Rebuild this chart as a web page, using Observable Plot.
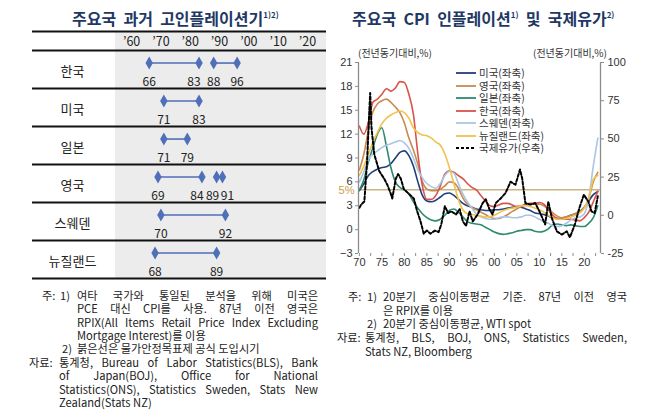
<!DOCTYPE html>
<html><head><meta charset="utf-8">
<script src="https://cdn.jsdelivr.net/npm/d3@7"></script>
<script src="https://cdn.jsdelivr.net/npm/@observablehq/plot@0.6"></script>
<style>
body{margin:0;background:#fff;font-family:"Noto Sans CJK KR","Noto Sans",sans-serif;}
#root{position:relative;width:658px;height:417px;overflow:hidden;background:#fff;}
.abs{position:absolute;white-space:nowrap;}
.title{font-weight:bold;font-size:16px;line-height:22px;color:#1f3864;}
.title sup{font-size:8px;vertical-align:7px;}
.note{font-size:11.2px;color:#222;line-height:13px;height:13px;}
.j{text-align:justify;text-align-last:justify;}
.unit{font-size:10px;color:#333;line-height:14px;}
.leg{font-size:10.5px;color:#333;line-height:12px;display:flex;align-items:center;}
</style></head>
<body><div id="root">
<div class="abs title" style="left:72px;top:4px;">주요국&nbsp; 과거&nbsp; 고인플레이션기<sup>1)2)</sup></div>
<div class="abs title" style="left:352px;top:4px;">주요국&nbsp; CPI&nbsp; 인플레이션<sup>1)</sup>&nbsp; 및&nbsp; 국제유가<sup>2)</sup></div>
<div id="leftChart" class="abs" style="left:0;top:26px;"></div>
<div id="rightChart" class="abs" style="left:330px;top:44px;"></div>
<div class="abs unit" style="left:358px;top:46px;">(전년동기대비,%)</div>
<div class="abs unit" style="left:533px;top:46px;">(전년동기대비,%)</div>
<div id="legend" class="abs" style="left:455px;top:67px;"></div>

<div class="abs note" style="left:42px;top:289px;">주:</div>
<div class="abs note" style="left:60px;top:289px;">1)</div>
<div class="abs note j" style="left:77px;top:289px;width:241px;">여타 국가와 통일된 분석을 위해 미국은</div>
<div class="abs note j" style="left:77px;top:302px;width:241px;">PCE 대신 CPI를 사용. 87년 이전 영국은</div>
<div class="abs note j" style="left:77px;top:316px;width:241px;">RPIX(All Items Retail Price Index Excluding</div>
<div class="abs note" style="left:77px;top:329px;">Mortgage Interest)를 이용</div>
<div class="abs note" style="left:62px;top:342px;">2)</div>
<div class="abs note" style="left:77px;top:342px;">붉은선은 물가안정목표제 공식 도입시기</div>
<div class="abs note" style="left:29px;top:356px;">자료:</div>
<div class="abs note j" style="left:59px;top:356px;width:259px;">통계청, Bureau of Labor Statistics(BLS), Bank</div>
<div class="abs note j" style="left:59px;top:369px;width:259px;">of Japan(BOJ), Office for National</div>
<div class="abs note j" style="left:59px;top:383px;width:259px;">Statistics(ONS), Statistics Sweden, Stats New</div>
<div class="abs note" style="left:59px;top:396px;">Zealand(Stats NZ)</div>

<div class="abs note" style="left:348px;top:290px;">주:</div>
<div class="abs note" style="left:367px;top:290px;">1)</div>
<div class="abs note j" style="left:383px;top:290px;width:244px;">20분기 중심이동평균 기준. 87년 이전 영국</div>
<div class="abs note" style="left:383px;top:304px;">은 RPIX를 이용</div>
<div class="abs note" style="left:367px;top:317px;">2)</div>
<div class="abs note" style="left:383px;top:317px;">20분기 중심이동평균, WTI spot</div>
<div class="abs note" style="left:337px;top:331px;">자료:</div>
<div class="abs note j" style="left:365px;top:331px;width:262px;">통계청, BLS, BOJ, ONS, Statistics Sweden,</div>
<div class="abs note" style="left:365px;top:345px;">Stats NZ, Bloomberg</div>
</div>
<script>
// ---------- Left table: high-inflation periods ----------
const rowCountries = ["한국","미국","일본","영국","스웨덴","뉴질랜드"];
const periodCountry = ["한국","한국","미국","일본","영국","영국","스웨덴","뉴질랜드"];
const periodStart = [1966,1988,1971,1971,1969,1989,1970,1968];
const periodEnd   = [1983,1996,1983,1979,1984,1991,1992,1989];
const decadeTicks = [1960,1970,1980,1990,2000,2010,2020];
const decadeLabels = ["’60","’70","’80","’90","’00","’10","’20"];

// ---------- Right chart: CPI (20Q centered MA) and oil ----------
const cpiYears = [1970,1971,1972,1973,1974,1975,1976,1977,1978,1979,
  1980,1981,1982,1983,1984,1985,1986,1987,1988,1989,
  1990,1991,1992,1993,1994,1995,1996,1997,1998,1999,
  2000,2001,2002,2003,2004,2005,2006,2007,2008,2009,
  2010,2011,2012,2013,2014,2015,2016,2017,2018,2019,
  2020,2021,2022,2023];
const usCPI = [4.9,5.8,6.8,7.3,7.6,7.8,7.9,8.3,9.0,9.7,
  9.9,9.3,8.0,6.0,4.3,3.6,3.5,3.7,4.1,4.5,
  4.6,4.3,3.8,3.3,3.0,2.8,2.6,2.5,2.4,2.4,
  2.5,2.5,2.6,2.7,2.8,2.9,2.8,2.6,2.4,2.1,
  2.0,1.9,1.7,1.5,1.4,1.4,1.6,1.8,2.0,2.3,
  2.8,3.6,4.4,4.8];
const ukCPI = [7.5,9.5,12.5,14.8,15.8,16.2,16.4,16.0,15.4,14.7,
  13.4,11.5,10.0,8.2,6.0,5.1,4.9,4.9,5.1,5.5,
  6.0,5.9,5.2,4.0,3.2,2.8,2.5,2.2,1.9,1.6,
  1.4,1.4,1.6,1.9,2.3,2.6,2.9,3.1,3.2,3.2,
  3.2,3.0,2.6,2.1,1.7,1.5,1.6,1.8,2.0,2.3,
  2.8,3.9,6.0,7.2];
const jpCPI = [5.0,6.3,8.5,10.3,12.0,12.8,10.5,7.8,6.0,5.3,
  5.0,4.5,3.5,2.7,2.0,1.5,1.2,1.1,1.3,1.8,
  2.4,2.6,2.2,1.6,1.0,0.8,0.7,0.6,0.3,0.0,
  -0.3,-0.5,-0.6,-0.5,-0.4,-0.2,-0.1,0.0,0.0,-0.2,
  -0.3,-0.2,0.1,0.6,0.7,0.6,0.5,0.6,0.5,0.4,
  0.4,0.8,1.5,3.0];
const krCPI = [13.0,12.0,13.5,16.0,16.4,17.0,17.7,17.4,17.8,18.6,
  18.5,17.0,14.5,9.5,5.5,3.8,3.8,4.3,5.5,7.0,
  7.4,7.2,6.8,6.4,5.8,5.3,5.0,4.3,3.6,3.0,
  2.9,3.1,3.3,3.3,3.1,2.9,3.0,3.2,3.3,3.3,
  3.4,3.2,2.5,1.8,1.4,1.3,1.3,1.3,1.2,1.1,
  1.5,2.2,3.5,4.8];
const seCPI = [6.0,7.3,8.8,9.5,9.9,10.3,10.6,10.8,11.0,11.2,
  10.9,10.2,9.0,7.5,6.5,5.8,5.4,5.2,5.8,6.8,
  7.3,7.1,5.8,4.5,3.5,2.7,2.0,1.6,1.4,1.3,
  1.3,1.5,1.6,1.6,1.5,1.5,1.6,1.8,1.8,1.6,
  1.3,1.0,0.8,0.5,0.4,0.5,0.8,1.2,1.5,1.6,
  2.0,4.0,8.0,11.5];
const nzCPI = [6.8,8.0,9.5,11.0,12.2,13.3,14.0,14.4,14.7,14.9,
  14.7,14.0,12.8,12.2,11.9,11.8,11.5,11.0,10.6,9.5,
  7.8,5.8,3.8,2.5,2.0,1.9,1.8,1.7,1.6,1.6,
  1.8,2.1,2.4,2.6,2.7,2.8,3.0,3.0,2.9,2.7,
  2.5,2.2,1.8,1.5,1.3,1.3,1.4,1.6,1.8,2.1,
  2.7,4.0,6.3,6.8];
const oilYears = [1970.0,1970.4,1971.1,1971.7,1972.2,1972.4,1972.7,1973.3,1974.4,1975.5,
  1976.2,1977.0,1977.3,1978.1,1978.6,1979.2,1979.9,1981.0,1982.1,1982.8,
  1983.6,1984.3,1985.0,1985.8,1986.8,1987.6,1988.2,1989.0,1989.7,1990.4,
  1991.5,1992.3,1993.0,1993.7,1994.5,1995.2,1996.3,1997.4,1998.1,1998.9,
  1999.6,2000.3,2001.4,2002.5,2003.6,2004.7,2005.7,2006.2,2006.9,2008.0,
  2009.1,2010.2,2011.3,2012.0,2012.8,2013.9,2015.0,2016.1,2016.8,2017.9,
  2018.9,2019.9,2020.9,2021.6,2022.3,2023.0];
const oilWTI = [5,7,9,35,68,80,57,40,29,24,
  20,14,11,24,27,24,17,14,11,3,
  -4,-12,-10,-12,-10,-11,-6,6,1.5,2.6,
  0.6,4,-4,-7,2.6,-4,0.6,8,10.5,4,
  0.6,8,11,14.6,22,20,30,24,8,7,
  8,1.5,-6,9,-2,-10.5,-12.6,-10.5,-14.4,-6,
  4.8,13.5,9,2.6,1.5,12.4];
const seriesNames = ["미국(좌축)","영국(좌축)","일본(좌축)","한국(좌축)","스웨덴(좌축)","뉴질랜드(좌축)"];
const seriesValues = [usCPI, ukCPI, jpCPI, krCPI, seCPI, nzCPI];
const seriesColors = ["#203f7c","#c98a52","#2f8a70","#d9534a","#a9c6e6","#f0c24e"];
const oilName = "국제유가(우축)";
const leftTicks = [-3,0,3,6,9,12,15,18,21];
const rightTicks = [-25,0,25,50,75,100];
const xLabelYears = [1970,1975,1980,1985,1990,1995,2000,2005,2010,2015,2020];
const xLabels = ["70","75","80","85","90","95","00","05","10","15","20"];
const xMinorTicks = [1970,1972.5,1975,1977.5,1980,1982.5,1985,1987.5,1990,1992.5,1995,1997.5,2000,2002.5,2005,2007.5,2010,2012.5,2015,2017.5,2020,2022.5];
const targetLine = [5];

const font = '"Noto Sans CJK KR","Noto Sans",sans-serif';
const numFont = '"Liberation Sans",Arial,sans-serif';
const blue = "#4f6fb8";

// ---- left table plot ----
const rowTop = c => rowCountries.indexOf(c) + 0.5;
const periods = periodCountry.map((c,i)=>({country:c, start:periodStart[i], end:periodEnd[i]}));
// label nudges so that close labels (e.g. '89–'91) stay legible
const endpoints = periods.flatMap((p, i) => {
  const short = p.end - p.start < 4;
  const nextSame = periods[i+1] && periods[i+1].country === p.country && periods[i+1].start - p.end < 6;
  return [{country:p.country, year:p.start, dx: short ? -4 : 0},
          {country:p.country, year:p.end, dx: short ? 5 : (nextSame ? -5 : 0)}];
});
const separators = [0, 0.5, ...rowCountries.map(c => rowTop(c) + 1)];
const xDomL = [1954.5, 2026.5];

const leftPlot = Plot.plot({
  width: 330, height: 256,
  marginLeft: 115, marginRight: 4, marginTop: 5, marginBottom: 4,
  x: {domain: xDomL, axis: null},
  y: {domain: [6.5, 0], axis: null},
  style: {fontFamily: font, background: "transparent", overflow: "visible"},
  marks: [
    Plot.rect([0], {x1: () => xDomL[0], x2: () => xDomL[1], y1: () => 0, y2: () => 6.5, fill: "#ececec"}),
    Plot.ruleY(separators, {y: d => d, stroke: "#111", strokeWidth: 2, insetLeft: -83}),
    Plot.text(decadeTicks, {x: d => d, y: () => 0.27, text: (d,i) => decadeLabels[i], fontSize: 12.5, fill: "#222"}),
    Plot.text(rowCountries, {frameAnchor: "left", textAnchor: "middle", dx: -43, y: d => rowTop(d) + 0.56, text: d => d, fontSize: 13, fill: "#222"}),
    Plot.ruleY(periods, {x1: "start", x2: "end", y: d => rowTop(d.country) + 0.33, stroke: blue, strokeWidth: 1.6}),
    Plot.dot(endpoints, {x: "year", y: d => rowTop(d.country) + 0.33, symbol: "diamond", r: 3.9, fill: blue}),
    ...[-5, -4, 0, 5].map(off => Plot.text(endpoints.filter(d => d.dx === off), {x: "year", dx: off, y: d => rowTop(d.country) + 0.83, text: d => String(d.year % 100).padStart(2,"0"), fontSize: 12, fill: "#222"}))
  ]
});
document.getElementById("leftChart").appendChild(leftPlot);

// ---- right chart ----
const xDomR = [1969.8, 2023.6];
const oilToLeft = d3.scaleLinear([-25, 100], [-3, 21]);
const cpiData = seriesNames.flatMap((n, si) => cpiYears.map((y, i) => ({name: n, year: y, value: seriesValues[si][i]})));
const oilData = oilYears.map((y, i) => ({year: y, value: oilWTI[i]}));
const axisColor = "#8c8c8c";

const rightPlot = Plot.plot({
  width: 300, height: 231,
  marginLeft: 28, marginRight: 30, marginTop: 18, marginBottom: 22,
  x: {domain: xDomR, axis: null},
  y: {domain: [-3, 21], axis: null},
  color: {domain: seriesNames, range: seriesColors},
  style: {fontFamily: numFont, background: "transparent", overflow: "visible"},
  marks: [
    Plot.ruleY(targetLine, {y: d => d, stroke: "#c9b483", strokeWidth: 1.5}),
    Plot.text(targetLine, {y: d => d, frameAnchor: "left", textAnchor: "middle", dx: -12, dy: 1, text: d => d + "%", fill: "#c9a24a", fontSize: 11}),
    ...seriesNames.map(n => Plot.line(cpiData.filter(d => d.name === n), {x: "year", y: "value", stroke: "name", strokeWidth: 1.6, curve: "monotone-x"})),
    Plot.line(oilData, {x: "year", y: d => oilToLeft(d.value), stroke: "#000", strokeWidth: 2, strokeDasharray: "3,2"}),
    Plot.ruleX(xDomR, {x: d => d, stroke: axisColor, strokeWidth: 1.3}),
    Plot.axisY(leftTicks, {anchor: "left", label: null, tickSize: 3, tickPadding: 3, stroke: axisColor, fill: "#333", fontSize: 11}),
    Plot.axisY(rightTicks.map(oilToLeft), {anchor: "right", label: null, tickSize: 3, tickPadding: 4, stroke: axisColor, fill: "#333", fontSize: 11,
      tickFormat: d => String(Math.round(oilToLeft.invert(d)))}),
    Plot.axisX(xMinorTicks, {anchor: "bottom", label: null, tickSize: 3, stroke: axisColor, tickFormat: () => ""}),
    Plot.axisX(xLabelYears, {anchor: "bottom", label: null, tickSize: 0, tickPadding: 5, fill: "#333", fontSize: 11,
      tickFormat: d => xLabels[xLabelYears.indexOf(d)]})
  ]
});
document.getElementById("rightChart").appendChild(rightPlot);

// ---- legend ----
const legend = document.getElementById("legend");
const legendItems = seriesNames.map((n, i) => ({name: n, color: seriesColors[i], dash: null}))
  .concat([{name: oilName, color: "#000", dash: "3,2"}]);
legendItems.forEach(it => {
  const row = document.createElement("div");
  row.className = "leg";
  row.style.height = "12.5px";
  row.innerHTML = `<svg width="22" height="12" style="margin-right:2px"><line x1="1" y1="6" x2="21" y2="6" stroke="${it.color}" stroke-width="${it.dash ? 2 : 1.8}" ${it.dash ? `stroke-dasharray="${it.dash}"` : ""}/></svg><span>${it.name}</span>`;
  legend.appendChild(row);
});
</script>
</body></html>
